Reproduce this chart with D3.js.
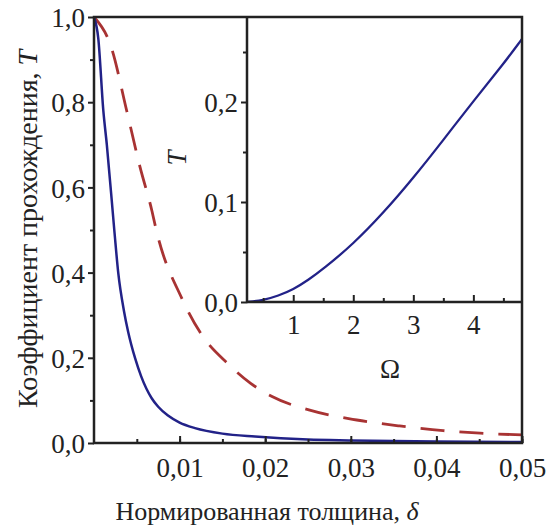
<!DOCTYPE html>
<html><head><meta charset="utf-8">
<script src="https://cdn.jsdelivr.net/npm/d3@7"></script>
<style>
html,body{margin:0;padding:0;background:#fff;}
svg text{fill:#222;}
</style></head>
<body><svg id="c" width="551" height="529"></svg>
<script>
// ---- data ----
const deltaBlue = [0, 0.0005, 0.00109, 0.0015, 0.00237, 0.00284, 0.0035, 0.004, 0.0048, 0.0055, 0.00674, 0.0075, 0.0086, 0.01, 0.0118, 0.015, 0.0188, 0.025, 0.03, 0.04, 0.05];
const tBlue     = [1, 0.95, 0.78, 0.70, 0.5, 0.398, 0.31, 0.26, 0.199, 0.157, 0.105, 0.085, 0.065, 0.048, 0.035, 0.022, 0.015, 0.008, 0.006, 0.0035, 0.0022];
const deltaRed  = [0, 0.002, 0.00382, 0.00535, 0.00674, 0.00732, 0.01025, 0.01258, 0.0157, 0.0183, 0.0208, 0.0252, 0.0307, 0.0357, 0.0408, 0.0451, 0.05];
const tRed      = [1, 0.93, 0.78, 0.65, 0.547, 0.496, 0.34, 0.254, 0.185, 0.14, 0.109, 0.077, 0.054, 0.040, 0.029, 0.023, 0.019];
const omega     = [0.23, 0.5, 0.75, 1, 1.25, 1.5, 2, 2.5, 3, 3.5, 4, 4.5, 4.81];
const tInset    = [0, 0.0017, 0.0062, 0.0125, 0.022, 0.033, 0.058, 0.089, 0.124, 0.162, 0.201, 0.238, 0.263];
const mainXTicks = [0.01, 0.02, 0.03, 0.04, 0.05];
const mainXTickLabels = ["0,01", "0,02", "0,03", "0,04", "0,05"];
const mainYTicks = [0, 0.2, 0.4, 0.6, 0.8, 1.0];
const mainYTickLabels = ["0,0", "0,2", "0,4", "0,6", "0,8", "1,0"];
const insetXTicks = [1, 2, 3, 4];
const insetXTickLabels = ["1", "2", "3", "4"];
const insetYTicks = [0, 0.1, 0.2];
const insetYTickLabels = ["0,0", "0,1", "0,2"];
const xTitle = "Нормированная толщина, ";
const xTitleSym = "δ";
const yTitle = "Коэффициент прохождения, ";
const yTitleSym = "T";
const insetXTitle = "Ω";
const insetYTitle = "T";

const svg = d3.select("#c");
const BLUE = "#222288", RED = "#a83333", INK = "#222";
const FONT = "'Liberation Serif','Times New Roman',serif";

// main scales
const x = d3.scaleLinear().domain([0, 0.05]).range([94, 522]);
const y = d3.scaleLinear().domain([0, 1]).range([443, 17]);
// inset scales
const xi = d3.scaleLinear().domain([0.23, 4.81]).range([247, 522]);
const yi = d3.scaleLinear().domain([0, 0.285]).range([302, 17]);

const line = (sx, sy, c) => d3.line().x(d => sx(d[0])).y(d => sy(d[1])).curve(c || d3.curveMonotoneX);

// curves
svg.append("path").datum(deltaRed.map((d, i) => [d, tRed[i]]))
  .attr("d", line(x, y)).attr("fill", "none").attr("stroke", RED)
  .attr("stroke-width", 2.8).attr("stroke-dasharray", "24,15");
svg.append("path").datum(deltaBlue.map((d, i) => [d, tBlue[i]]))
  .attr("d", line(x, y)).attr("fill", "none").attr("stroke", BLUE)
  .attr("stroke-width", 2.5);

// inset background and curve
svg.append("rect").attr("x", xi.range()[0]).attr("y", yi.range()[1])
  .attr("width", xi.range()[1] - xi.range()[0]).attr("height", yi.range()[0] - yi.range()[1])
  .attr("fill", "#fff");
svg.append("path").datum(omega.map((d, i) => [d, tInset[i]]))
  .attr("d", line(xi, yi, d3.curveBasis)).attr("fill", "none").attr("stroke", BLUE)
  .attr("stroke-width", 2.3);

// main axes
const gx = svg.append("g").attr("transform", `translate(0,${y(0)})`)
  .call(d3.axisBottom(x).tickValues(d3.range(0.005, 0.0501, 0.005)).tickSize(-4).tickFormat(""));
const gx2 = svg.append("g").attr("transform", `translate(0,${y(0)})`)
  .call(d3.axisBottom(x).tickValues(mainXTicks).tickSize(-7).tickFormat((d, i) => mainXTickLabels[i]).tickPadding(15));
const gy = svg.append("g").attr("transform", `translate(${x(0)},0)`)
  .call(d3.axisLeft(y).tickValues(d3.range(0.1, 1.0, 0.2)).tickSize(4).tickFormat(""));
const gy2 = svg.append("g").attr("transform", `translate(${x(0)},0)`)
  .call(d3.axisLeft(y).tickValues(mainYTicks).tickSize(6).tickFormat((d, i) => mainYTickLabels[i]).tickPadding(3));

// inset axes
const gix = svg.append("g").attr("transform", `translate(0,${yi(0)})`)
  .call(d3.axisBottom(xi).tickValues([0.5, 1.5, 2.5, 3.5, 4.5]).tickSize(-4).tickFormat(""));
const gix2 = svg.append("g").attr("transform", `translate(0,${yi(0)})`)
  .call(d3.axisBottom(xi).tickValues(insetXTicks).tickSize(-7).tickFormat((d, i) => insetXTickLabels[i]).tickPadding(13));
const giy = svg.append("g").attr("transform", `translate(${xi.range()[0]},0)`)
  .call(d3.axisLeft(yi).tickValues([0.05, 0.15, 0.25]).tickSize(4).tickFormat(""));
const giy2 = svg.append("g").attr("transform", `translate(${xi.range()[0]},0)`)
  .call(d3.axisLeft(yi).tickValues(insetYTicks).tickSize(6).tickFormat((d, i) => insetYTickLabels[i]).tickPadding(3));

svg.selectAll("g").attr("font-family", FONT);
svg.selectAll(".domain").remove();
svg.selectAll(".tick line").attr("stroke", INK).attr("stroke-width", 2);
svg.selectAll(".tick text").attr("font-size", 27).attr("fill", INK).attr("font-family", FONT);
[gy2, giy2].forEach(g => g.selectAll(".tick text").attr("dy", "0.36em"));

// frames
svg.append("rect").attr("x", x(0)).attr("y", y(1)).attr("width", x(0.05) - x(0)).attr("height", y(0) - y(1))
  .attr("fill", "none").attr("stroke", INK).attr("stroke-width", 2.5);
svg.append("line").attr("x1", xi.range()[0]).attr("x2", xi.range()[0]).attr("y1", yi.range()[1]).attr("y2", yi.range()[0])
  .attr("stroke", INK).attr("stroke-width", 2.5);
svg.append("line").attr("x1", xi.range()[0]).attr("x2", xi.range()[1]).attr("y1", yi.range()[0]).attr("y2", yi.range()[0])
  .attr("stroke", INK).attr("stroke-width", 2.5);

// titles
const xt = svg.append("text").attr("x", 267).attr("y", 520).attr("text-anchor", "middle").attr("font-size", 26).attr("font-family", FONT);
xt.append("tspan").text(xTitle);
xt.append("tspan").attr("font-style", "italic").text(xTitleSym);

const yt = svg.append("text").attr("transform", "translate(37,229) rotate(-90)").attr("text-anchor", "middle").attr("font-size", 28).attr("font-family", FONT);
yt.append("tspan").text(yTitle);
yt.append("tspan").attr("font-style", "italic").text(yTitleSym);

svg.append("text").attr("x", 390).attr("y", 378).attr("text-anchor", "middle").attr("font-size", 27).attr("font-family", FONT).text(insetXTitle);
svg.append("text").attr("transform", "translate(186,158) rotate(-90)").attr("text-anchor", "middle").attr("font-family", FONT)
  .attr("font-size", 27).attr("font-style", "italic").text(insetYTitle);
</script>
</body></html>
